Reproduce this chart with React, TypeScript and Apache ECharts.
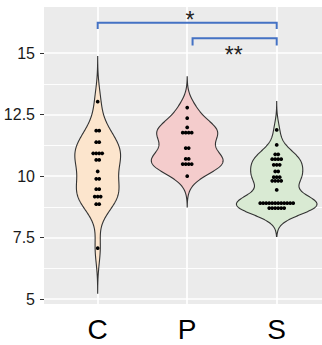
import React, { useEffect, useRef } from "react";
import * as echarts from "echarts";

const categories = ["C", "P", "S"];
const valuesC = [13.03, 11.85, 11.85, 11.38, 11.38, 10.93, 10.93, 10.93, 10.93, 10.66, 10.66, 10.19, 9.89, 9.89, 9.47, 9.47, 9.17, 9.17, 9.17, 8.86, 8.86, 7.07];
const valuesP = [12.79, 12.36, 11.98, 11.77, 11.77, 11.77, 11.77, 11.14, 11.14, 10.7, 10.7, 10.49, 10.49, 10.49, 10.49, 10.0];
const valuesS = [
  11.88, 11.27, 10.89, 10.89, 10.69, 10.69, 10.69, 10.69, 10.46, 10.46, 10.46, 10.19, 10.19,
  9.96, 9.96, 9.96, 9.81, 9.81, 9.81, 9.81, 9.44,
  8.9, 8.9, 8.9, 8.9, 8.9, 8.9, 8.9, 8.9, 8.9, 8.9, 8.9, 8.9,
  8.7, 8.7, 8.7, 8.7, 8.7, 8.7,
];
const groups = [valuesC, valuesP, valuesS];
const fills = ["#fce5cd", "#f4cccc", "#d9ead3"];
const yTicks = [5, 7.5, 10, 12.5, 15];
const yMinor = [6.25, 8.75, 11.25, 13.75];
const xTicks = [1, 2, 3];
const binwidth = 0.122;
const dotScale = 1.25;

const bracketStart = [1, 2.06];
const bracketEnd = [3, 3];
const bracketY = [16.24, 15.61];
const bracketFoot = [15.99, 15.31];
const bracketLabel = ["*", "**"];
const bracketLabelX = [2.03, 2.52];
const bracketLabelY = [16.36, 14.93];

function quantile(s: number[], p: number) {
  const h = (s.length - 1) * p;
  const lo = Math.floor(h);
  const hi = Math.min(lo + 1, s.length - 1);
  return s[lo] + (h - lo) * (s[hi] - s[lo]);
}

function kde(vals: number[]) {
  const n = vals.length;
  const s = [...vals].sort((a, b) => a - b);
  const mean = s.reduce((a, b) => a + b, 0) / n;
  const sd = Math.sqrt(s.reduce((a, b) => a + (b - mean) * (b - mean), 0) / (n - 1));
  const iqr = quantile(s, 0.75) - quantile(s, 0.25);
  const bw = 0.9 * Math.min(sd, iqr / 1.34) * Math.pow(n, -0.2);
  const from = s[0] - 3 * bw;
  const to = s[n - 1] + 3 * bw;
  const m = 256;
  const ys: number[] = [];
  const ds: number[] = [];
  for (let i = 0; i < m; i++) {
    const y = from + ((to - from) * i) / (m - 1);
    let d = 0;
    for (const x of s) {
      const z = (y - x) / bw;
      d += Math.exp(-0.5 * z * z);
    }
    ys.push(y);
    ds.push(d / (n * bw * Math.sqrt(2 * Math.PI)));
  }
  return { ys, ds };
}

export default function App() {
  const ref = useRef<HTMLDivElement>(null);
  useEffect(() => {
    if (!ref.current) return;
    const chart = echarts.init(ref.current, undefined, { renderer: "svg" });
    const kdes = groups.map(kde);
    const maxD = Math.max(...kdes.map((k) => Math.max(...k.ds)));

    const dotData: number[][] = [];
    groups.forEach((vals, gi) => {
      const counts = new Map<number, number>();
      vals.forEach((v) => counts.set(v, (counts.get(v) || 0) + 1));
      counts.forEach((n, v) => {
        for (let i = 0; i < n; i++) dotData.push([gi + 1, v, i, n]);
      });
    });

    const gridLines: any[] = [
      ...yMinor.map((v) => ({ yAxis: v, lineStyle: { color: "#ffffff", width: 0.9, type: "solid" } })),
      ...yTicks.map((v) => ({ yAxis: v, lineStyle: { color: "#ffffff", width: 1.7, type: "solid" } })),
      ...xTicks.map((v) => ({ xAxis: v, lineStyle: { color: "#ffffff", width: 1.7, type: "solid" } })),
    ];

    chart.setOption({
      animation: false,
      grid: {
        left: 44,
        top: 7,
        right: 0,
        bottom: 41,
        show: true,
        backgroundColor: "#ebebeb",
        borderWidth: 0,
      },
      xAxis: {
        type: "value",
        min: 0.4,
        max: 3.506,
        axisLine: { show: false },
        axisTick: { show: false },
        splitLine: { show: false },
        axisLabel: {
          customValues: xTicks,
          formatter: (v: number) => categories[Math.round(v) - 1] || "",
          fontSize: 28,
          color: "#000000",
          margin: 11,
          fontFamily: "Liberation Sans",
        },
      },
      yAxis: {
        type: "value",
        min: 4.8,
        max: 16.88,
        axisLine: { show: false },
        splitLine: { show: false },
        axisTick: { show: true, length: 4, customValues: yTicks, lineStyle: { color: "#333333", width: 1 } },
        axisLabel: {
          customValues: yTicks,
          fontSize: 16,
          color: "#1a1a1a",
          margin: 9,
          fontFamily: "Liberation Sans",
        },
      },
      series: [
        {
          type: "line",
          data: [],
          silent: true,
          markLine: {
            silent: true,
            z: 1,
            symbol: ["none", "none"],
            label: { show: false },
            emphasis: { disabled: true },
            data: gridLines,
          },
        },
        {
          type: "custom",
          z: 3,
          silent: true,
          data: [[1, 10], [2, 11], [3, 10]],
          renderItem: (params: any, api: any) => {
            const g = api.value(0);
            const k = kdes[g - 1];
            const right = k.ys.map((y, i) => api.coord([g + (0.45 * k.ds[i]) / maxD, y]));
            const left = k.ys.map((y, i) => api.coord([g - (0.45 * k.ds[i]) / maxD, y])).reverse();
            return {
              type: "polygon",
              shape: { points: right.concat(left) },
              style: { fill: fills[g - 1], stroke: "#333333", lineWidth: 1.1 },
            };
          },
        },
        {
          type: "custom",
          z: 4,
          silent: true,
          data: dotData,
          renderItem: (params: any, api: any) => {
            const c = api.coord([api.value(0), api.value(1)]);
            const d = api.size([0, binwidth])[1];
            const off = (api.value(2) - (api.value(3) - 1) / 2) * d;
            return {
              type: "circle",
              shape: { cx: c[0] + off, cy: c[1], r: (d * dotScale) / 2 },
              style: { fill: "#000000" },
            };
          },
        },
        {
          type: "custom",
          z: 5,
          silent: true,
          clip: false,
          data: bracketStart.map((_, i) => [i, bracketY[i]]),
          renderItem: (params: any, api: any) => {
            const i = api.value(0);
            const p1 = api.coord([bracketStart[i], bracketFoot[i]]);
            const p2 = api.coord([bracketStart[i], bracketY[i]]);
            const p3 = api.coord([bracketEnd[i], bracketY[i]]);
            const p4 = api.coord([bracketEnd[i], bracketFoot[i]]);
            const t = api.coord([bracketLabelX[i], bracketLabelY[i]]);
            return {
              type: "group",
              children: [
                {
                  type: "polyline",
                  shape: { points: [p1, p2, p3, p4] },
                  style: { stroke: "#4472c4", lineWidth: 2, fill: "none" },
                },
                {
                  type: "text",
                  x: t[0],
                  y: t[1],
                  style: {
                    text: bracketLabel[i],
                    fill: "#222222",
                    font: "23px 'Liberation Sans'",
                    textAlign: "center",
                    textVerticalAlign: "middle",
                  },
                },
              ],
            };
          },
        },
      ],
    });
    return () => chart.dispose();
  }, []);
  return <div ref={ref} style={{ position: "absolute", left: 0, top: 0, width: 322, height: 345 }} />;
}
